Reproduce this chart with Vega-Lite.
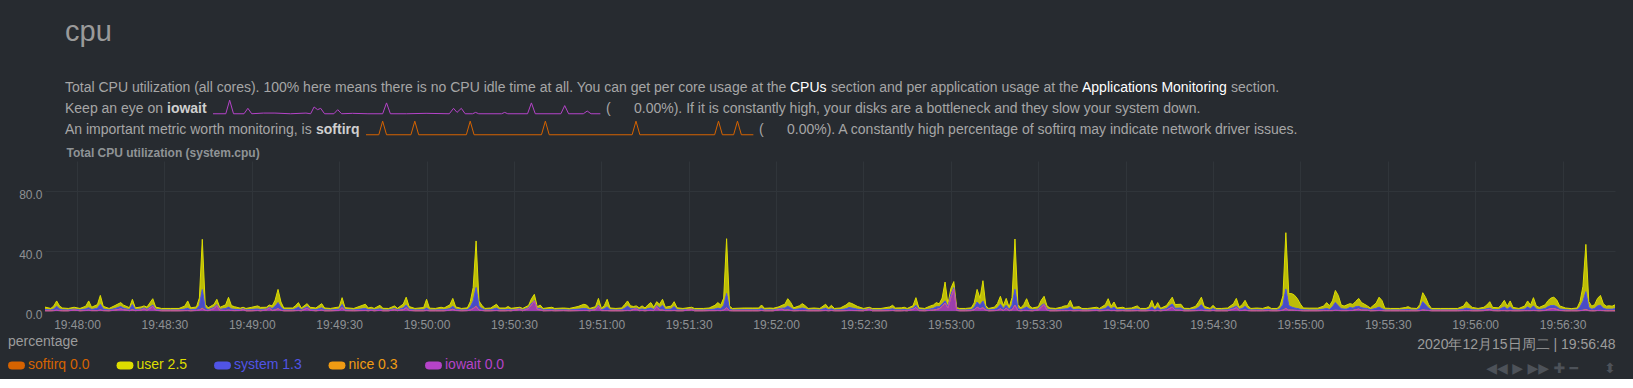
{
"$schema":"https://vega.github.io/schema/vega-lite/v6.json",
"background":"#272b30",
"padding":{"left":8,"top":17.5,"right":4,"bottom":2},
"title":{"text":"cpu","anchor":"start","frame":"group","dx":20,"fontSize":29,"font":"Liberation Sans","fontWeight":"normal","color":"#9a9a9a","offset":8.5,"baseline":"alphabetic"},
"config":{"view":{"stroke":null},"font":"Liberation Sans","text":{"font":"Liberation Sans","fontSize":14,"color":"#a6a6a6","align":"left","baseline":"middle"}},
"spacing":6.5,
"vconcat":[
{"vconcat":[
 {"hconcat":[
  {"width":744.5,"height":19,"data":{"values":[{"text":"Total CPU utilization (all cores). 100% here means there is no CPU idle time at all. You can get per core usage at the"}]},"mark":{"type":"text","dx":20},"encoding":{"text":{"field":"text"},"x":{"datum":0,"scale":{"domain":[0,1]},"axis":null},"y":{"datum":0.5,"scale":{"domain":[0,1]},"axis":null}}},
  {"width":40.4,"height":19,"data":{"values":[{"text":"CPUs"}]},"mark":{"type":"text","color":"#ffffff"},"encoding":{"text":{"field":"text"},"x":{"datum":0,"scale":{"domain":[0,1]},"axis":null},"y":{"datum":0.5,"scale":{"domain":[0,1]},"axis":null}}},
  {"width":251,"height":19,"data":{"values":[{"text":"section and per application usage at the"}]},"mark":{"type":"text"},"encoding":{"text":{"field":"text"},"x":{"datum":0,"scale":{"domain":[0,1]},"axis":null},"y":{"datum":0.5,"scale":{"domain":[0,1]},"axis":null}}},
  {"width":148.6,"height":19,"data":{"values":[{"text":"Applications Monitoring"}]},"mark":{"type":"text","color":"#ffffff"},"encoding":{"text":{"field":"text"},"x":{"datum":0,"scale":{"domain":[0,1]},"axis":null},"y":{"datum":0.5,"scale":{"domain":[0,1]},"axis":null}}},
  {"width":60,"height":19,"data":{"values":[{"text":"section."}]},"mark":{"type":"text"},"encoding":{"text":{"field":"text"},"x":{"datum":0,"scale":{"domain":[0,1]},"axis":null},"y":{"datum":0.5,"scale":{"domain":[0,1]},"axis":null}}}
 ],"spacing":0},
 {"hconcat":[
  {"width":122,"height":19,"data":{"values":[{"text":"Keep an eye on"}]},"mark":{"type":"text","dx":20},"encoding":{"text":{"field":"text"},"x":{"datum":0,"scale":{"domain":[0,1]},"axis":null},"y":{"datum":0.5,"scale":{"domain":[0,1]},"axis":null}}},
  {"width":43.6,"height":19,"data":{"values":[{"text":"iowait"}]},"mark":{"type":"text","fontWeight":"bold","color":"#cfcfcf"},"encoding":{"text":{"field":"text"},"x":{"datum":0,"scale":{"domain":[0,1]},"axis":null},"y":{"datum":0.5,"scale":{"domain":[0,1]},"axis":null}}},
  {"width":392.6,"height":19,"data":{"values":[{"k":0,"v":0},{"k":3.3,"v":0},{"k":4.3,"v":10},{"k":5.3,"v":0},{"k":8,"v":0},{"k":9,"v":4},{"k":10,"v":0},{"k":13,"v":0.5},{"k":16,"v":0.5},{"k":20,"v":0},{"k":24,"v":0.5},{"k":25.2,"v":0},{"k":26.1,"v":5},{"k":27,"v":3},{"k":27.8,"v":4},{"k":28.8,"v":0},{"k":31.2,"v":0},{"k":32.2,"v":3},{"k":33.2,"v":0},{"k":36,"v":0.3},{"k":40,"v":0},{"k":43.8,"v":0},{"k":44.8,"v":8},{"k":45.8,"v":0},{"k":50,"v":0},{"k":55,"v":0.3},{"k":61,"v":0},{"k":62.1,"v":4},{"k":63,"v":1},{"k":64.1,"v":4},{"k":65.1,"v":0},{"k":67,"v":0},{"k":67.8,"v":1},{"k":68.6,"v":0},{"k":74.5,"v":0},{"k":75.3,"v":1},{"k":76.1,"v":0},{"k":81.2,"v":0},{"k":82.2,"v":8},{"k":83.2,"v":0},{"k":89.8,"v":0},{"k":90.8,"v":6},{"k":91.8,"v":0},{"k":95.6,"v":0},{"k":96.6,"v":2},{"k":97.6,"v":0},{"k":100,"v":0}]},"mark":{"type":"line","color":"#b543c9","strokeWidth":1},"encoding":{"x":{"field":"k","type":"quantitative","scale":{"domain":[0,101.35]},"axis":null},"y":{"field":"v","type":"quantitative","scale":{"domain":[-3.5,10.5]},"axis":null}}},
  {"width":1000,"height":19,"data":{"values":[{"text":"(\u00a0\u00a0\u00a0\u00a0\u00a0\u00a00.00%). If it is constantly high, your disks are a bottleneck and they slow your system down."}]},"mark":{"type":"text"},"encoding":{"text":{"field":"text"},"x":{"datum":0,"scale":{"domain":[0,1]},"axis":null},"y":{"datum":0.5,"scale":{"domain":[0,1]},"axis":null}}}
 ],"spacing":0},
 {"hconcat":[
  {"width":270.5,"height":19,"data":{"values":[{"text":"An important metric worth monitoring, is"}]},"mark":{"type":"text","dx":20},"encoding":{"text":{"field":"text"},"x":{"datum":0,"scale":{"domain":[0,1]},"axis":null},"y":{"datum":0.5,"scale":{"domain":[0,1]},"axis":null}}},
  {"width":47.5,"height":19,"data":{"values":[{"text":"softirq"}]},"mark":{"type":"text","fontWeight":"bold","color":"#cfcfcf"},"encoding":{"text":{"field":"text"},"x":{"datum":0,"scale":{"domain":[0,1]},"axis":null},"y":{"datum":0.5,"scale":{"domain":[0,1]},"axis":null}}},
  {"width":392.6,"height":19,"data":{"values":[{"k":0,"v":0},{"k":3.3,"v":0},{"k":4.3,"v":10},{"k":5.3,"v":0},{"k":11.6,"v":0},{"k":12.6,"v":10},{"k":13.6,"v":0},{"k":25.9,"v":0},{"k":26.9,"v":10},{"k":27.9,"v":0},{"k":45.3,"v":0},{"k":46.3,"v":10},{"k":47.3,"v":0},{"k":68.7,"v":0},{"k":69.7,"v":10},{"k":70.7,"v":0},{"k":90,"v":0},{"k":91,"v":10},{"k":92,"v":0},{"k":94.9,"v":0},{"k":95.9,"v":10},{"k":96.9,"v":0},{"k":100,"v":0}]},"mark":{"type":"line","color":"#d66300","strokeWidth":1},"encoding":{"x":{"field":"k","type":"quantitative","scale":{"domain":[0,101.35]},"axis":null},"y":{"field":"v","type":"quantitative","scale":{"domain":[-3.5,10.5]},"axis":null}}},
  {"width":1000,"height":19,"data":{"values":[{"text":"(\u00a0\u00a0\u00a0\u00a0\u00a0\u00a00.00%). A constantly high percentage of softirq may indicate network driver issues."}]},"mark":{"type":"text"},"encoding":{"text":{"field":"text"},"x":{"datum":0,"scale":{"domain":[0,1]},"axis":null},"y":{"datum":0.5,"scale":{"domain":[0,1]},"axis":null}}}
 ],"spacing":0}
],"spacing":0},
{
"width":1570,"height":150,
"layer":[
{"data":{"values":[
{"time":"19:47:49","user":1.6,"system":0.8,"nice":0.1,"iowait":0.1},
{"time":"19:47:51","user":1.0,"system":0.5,"nice":0.1,"iowait":0.1},
{"time":"19:47:52","user":2.0,"system":1.0,"nice":0.1,"iowait":0.2},
{"time":"19:47:53","user":3.6,"system":2.5,"nice":0.2,"iowait":0.4},
{"time":"19:47:54","user":2.0,"system":1.0,"nice":0.1,"iowait":0.2},
{"time":"19:47:55","user":1.2,"system":0.6,"nice":0.1,"iowait":0.1},
{"time":"19:47:57","user":1.0,"system":0.5,"nice":0.1,"iowait":0.1},
{"time":"19:47:59","user":1.2,"system":0.6,"nice":0.1,"iowait":0.6},
{"time":"19:48:01","user":1.0,"system":0.5,"nice":0.1,"iowait":0.1},
{"time":"19:48:03","user":1.8,"system":1.0,"nice":0.1,"iowait":0.3},
{"time":"19:48:04","user":4.5,"system":1.6,"nice":0.2,"iowait":0.4},
{"time":"19:48:05","user":1.5,"system":0.7,"nice":0.1,"iowait":0.2},
{"time":"19:48:07","user":2.5,"system":1.5,"nice":0.1,"iowait":0.2},
{"time":"19:48:08","user":5.9,"system":3.8,"nice":0.2,"iowait":0.5},
{"time":"19:48:09","user":1.8,"system":1.0,"nice":0.1,"iowait":0.2},
{"time":"19:48:11","user":1.0,"system":0.5,"nice":0.1,"iowait":0.1},
{"time":"19:48:13","user":2.0,"system":1.0,"nice":0.1,"iowait":0.5},
{"time":"19:48:15","user":2.6,"system":1.6,"nice":0.1,"iowait":1.3},
{"time":"19:48:16","user":2.0,"system":1.0,"nice":0.1,"iowait":0.8},
{"time":"19:48:18","user":1.3,"system":0.6,"nice":0.1,"iowait":0.2},
{"time":"19:48:19","user":3.5,"system":3.5,"nice":0.2,"iowait":0.6},
{"time":"19:48:20","user":1.2,"system":0.6,"nice":0.1,"iowait":0.2},
{"time":"19:48:22","user":1.4,"system":0.7,"nice":0.1,"iowait":0.5},
{"time":"19:48:23","user":1.3,"system":0.6,"nice":0.1,"iowait":1.4},
{"time":"19:48:24","user":1.5,"system":0.7,"nice":0.1,"iowait":0.3},
{"time":"19:48:26","user":4.2,"system":0.8,"nice":0.2,"iowait":3.0},
{"time":"19:48:27","user":1.5,"system":0.6,"nice":0.1,"iowait":0.4},
{"time":"19:48:29","user":1.0,"system":0.5,"nice":0.1,"iowait":0.1},
{"time":"19:48:32","user":1.0,"system":0.5,"nice":0.1,"iowait":0.1},
{"time":"19:48:35","user":1.0,"system":0.5,"nice":0.1,"iowait":0.1},
{"time":"19:48:37","user":2.0,"system":1.0,"nice":0.1,"iowait":0.2},
{"time":"19:48:38","user":4.8,"system":1.5,"nice":0.2,"iowait":0.2},
{"time":"19:48:39","user":1.3,"system":0.6,"nice":0.1,"iowait":0.1},
{"time":"19:48:41","user":1.5,"system":0.8,"nice":0.1,"iowait":0.3},
{"time":"19:48:42","user":5.0,"system":3.0,"nice":0.2,"iowait":0.5},
{"time":"19:48:43","user":33.5,"system":12.5,"nice":0.3,"iowait":1.5},
{"time":"19:48:44","user":2.5,"system":1.5,"nice":0.1,"iowait":0.4},
{"time":"19:48:45","user":1.2,"system":0.6,"nice":0.1,"iowait":0.2},
{"time":"19:48:47","user":2.0,"system":0.8,"nice":0.1,"iowait":1.5},
{"time":"19:48:48","user":3.5,"system":0.6,"nice":0.2,"iowait":3.5},
{"time":"19:48:49","user":1.3,"system":0.6,"nice":0.1,"iowait":0.4},
{"time":"19:48:51","user":2.5,"system":1.2,"nice":0.1,"iowait":0.3},
{"time":"19:48:52","user":6.5,"system":2.0,"nice":0.2,"iowait":0.4},
{"time":"19:48:53","user":2.2,"system":1.0,"nice":0.1,"iowait":0.3},
{"time":"19:48:54","user":1.8,"system":0.8,"nice":0.1,"iowait":0.2},
{"time":"19:48:56","user":1.0,"system":0.5,"nice":0.1,"iowait":0.3},
{"time":"19:48:57","user":1.0,"system":0.4,"nice":0.1,"iowait":1.0},
{"time":"19:48:58","user":1.0,"system":0.5,"nice":0.1,"iowait":0.1},
{"time":"19:49:00","user":1.5,"system":0.8,"nice":0.1,"iowait":0.1},
{"time":"19:49:02","user":2.0,"system":1.0,"nice":0.1,"iowait":0.3},
{"time":"19:49:03","user":1.5,"system":0.7,"nice":0.1,"iowait":0.1},
{"time":"19:49:05","user":1.2,"system":0.6,"nice":0.1,"iowait":0.6},
{"time":"19:49:06","user":1.5,"system":0.5,"nice":0.1,"iowait":1.9},
{"time":"19:49:07","user":1.8,"system":1.2,"nice":0.1,"iowait":0.3},
{"time":"19:49:08","user":4.0,"system":2.5,"nice":0.1,"iowait":0.6},
{"time":"19:49:09","user":8.8,"system":4.0,"nice":0.1,"iowait":1.5},
{"time":"19:49:10","user":3.5,"system":2.0,"nice":0.1,"iowait":0.4},
{"time":"19:49:11","user":1.2,"system":0.6,"nice":0.1,"iowait":0.1},
{"time":"19:49:14","user":1.2,"system":0.6,"nice":0.1,"iowait":0.1},
{"time":"19:49:15","user":2.0,"system":1.2,"nice":0.1,"iowait":0.2},
{"time":"19:49:16","user":3.0,"system":2.2,"nice":0.1,"iowait":0.3},
{"time":"19:49:17","user":1.2,"system":0.6,"nice":0.1,"iowait":0.1},
{"time":"19:49:19","user":2.0,"system":1.0,"nice":0.1,"iowait":1.8},
{"time":"19:49:20","user":1.4,"system":0.6,"nice":0.1,"iowait":0.4},
{"time":"19:49:22","user":1.2,"system":0.6,"nice":0.1,"iowait":0.1},
{"time":"19:49:24","user":2.8,"system":1.5,"nice":0.1,"iowait":0.5},
{"time":"19:49:25","user":1.2,"system":0.6,"nice":0.1,"iowait":0.1},
{"time":"19:49:27","user":1.0,"system":0.5,"nice":0.1,"iowait":0.1},
{"time":"19:49:30","user":1.5,"system":0.8,"nice":0.1,"iowait":0.3},
{"time":"19:49:31","user":4.5,"system":2.0,"nice":0.2,"iowait":2.2},
{"time":"19:49:32","user":1.3,"system":0.6,"nice":0.1,"iowait":0.2},
{"time":"19:49:35","user":1.0,"system":0.5,"nice":0.1,"iowait":0.1},
{"time":"19:49:39","user":2.8,"system":1.3,"nice":0.1,"iowait":0.3},
{"time":"19:49:40","user":1.2,"system":0.6,"nice":0.1,"iowait":0.1},
{"time":"19:49:41","user":1.4,"system":0.6,"nice":0.1,"iowait":0.4},
{"time":"19:49:42","user":1.0,"system":0.5,"nice":0.1,"iowait":0.1},
{"time":"19:49:44","user":2.3,"system":1.0,"nice":0.1,"iowait":0.4},
{"time":"19:49:45","user":1.1,"system":0.5,"nice":0.1,"iowait":0.1},
{"time":"19:49:47","user":1.0,"system":0.5,"nice":0.1,"iowait":0.1},
{"time":"19:49:49","user":1.8,"system":0.7,"nice":0.1,"iowait":0.8},
{"time":"19:49:50","user":1.0,"system":0.5,"nice":0.1,"iowait":0.2},
{"time":"19:49:52","user":2.5,"system":1.2,"nice":0.1,"iowait":0.8},
{"time":"19:49:53","user":5.2,"system":1.8,"nice":0.2,"iowait":2.0},
{"time":"19:49:54","user":1.8,"system":0.8,"nice":0.1,"iowait":0.3},
{"time":"19:49:56","user":1.0,"system":0.5,"nice":0.1,"iowait":0.1},
{"time":"19:49:59","user":1.5,"system":0.6,"nice":0.1,"iowait":0.1},
{"time":"19:50:00","user":5.8,"system":1.5,"nice":0.2,"iowait":0.3},
{"time":"19:50:01","user":1.2,"system":0.5,"nice":0.1,"iowait":0.1},
{"time":"19:50:03","user":1.0,"system":0.5,"nice":0.1,"iowait":0.1},
{"time":"19:50:05","user":1.6,"system":0.7,"nice":0.1,"iowait":0.1},
{"time":"19:50:06","user":1.2,"system":0.6,"nice":0.1,"iowait":0.1},
{"time":"19:50:08","user":2.5,"system":1.0,"nice":0.1,"iowait":0.5},
{"time":"19:50:09","user":5.2,"system":2.0,"nice":0.2,"iowait":1.0},
{"time":"19:50:10","user":1.5,"system":0.8,"nice":0.1,"iowait":0.3},
{"time":"19:50:12","user":1.0,"system":0.5,"nice":0.1,"iowait":0.1},
{"time":"19:50:14","user":1.2,"system":0.6,"nice":0.1,"iowait":0.2},
{"time":"19:50:15","user":3.5,"system":2.0,"nice":0.1,"iowait":0.6},
{"time":"19:50:16","user":9.0,"system":5.0,"nice":0.2,"iowait":1.5},
{"time":"19:50:17","user":31.0,"system":12.5,"nice":0.2,"iowait":3.0},
{"time":"19:50:18","user":3.5,"system":2.5,"nice":0.1,"iowait":0.5},
{"time":"19:50:19","user":2.2,"system":1.2,"nice":0.1,"iowait":0.3},
{"time":"19:50:20","user":1.0,"system":0.5,"nice":0.1,"iowait":0.1},
{"time":"19:50:22","user":1.2,"system":0.6,"nice":0.1,"iowait":0.1},
{"time":"19:50:24","user":2.6,"system":1.5,"nice":0.1,"iowait":0.3},
{"time":"19:50:25","user":1.2,"system":0.6,"nice":0.1,"iowait":0.1},
{"time":"19:50:27","user":1.2,"system":0.6,"nice":0.1,"iowait":0.1},
{"time":"19:50:28","user":1.8,"system":0.9,"nice":0.1,"iowait":0.2},
{"time":"19:50:29","user":1.1,"system":0.5,"nice":0.1,"iowait":0.1},
{"time":"19:50:32","user":1.0,"system":0.4,"nice":0.1,"iowait":1.0},
{"time":"19:50:33","user":1.0,"system":0.5,"nice":0.1,"iowait":0.1},
{"time":"19:50:35","user":1.5,"system":0.6,"nice":0.1,"iowait":1.5},
{"time":"19:50:36","user":3.0,"system":1.0,"nice":0.1,"iowait":4.0},
{"time":"19:50:37","user":4.1,"system":0.3,"nice":0.1,"iowait":6.6},
{"time":"19:50:38","user":1.2,"system":0.5,"nice":0.1,"iowait":1.0},
{"time":"19:50:39","user":2.2,"system":1.0,"nice":0.1,"iowait":0.7},
{"time":"19:50:40","user":1.0,"system":0.5,"nice":0.1,"iowait":0.1},
{"time":"19:50:43","user":1.5,"system":0.7,"nice":0.1,"iowait":0.2},
{"time":"19:50:44","user":1.0,"system":0.5,"nice":0.1,"iowait":0.1},
{"time":"19:50:47","user":1.2,"system":0.5,"nice":0.1,"iowait":0.2},
{"time":"19:50:49","user":1.0,"system":0.5,"nice":0.1,"iowait":0.1},
{"time":"19:50:52","user":1.8,"system":0.9,"nice":0.1,"iowait":0.2},
{"time":"19:50:54","user":2.8,"system":1.3,"nice":0.1,"iowait":0.3},
{"time":"19:50:55","user":2.4,"system":1.1,"nice":0.1,"iowait":0.3},
{"time":"19:50:56","user":1.0,"system":0.5,"nice":0.1,"iowait":0.1},
{"time":"19:50:58","user":1.5,"system":0.5,"nice":0.1,"iowait":0.8},
{"time":"19:50:59","user":4.5,"system":0.6,"nice":0.2,"iowait":3.1},
{"time":"19:51:00","user":1.0,"system":0.5,"nice":0.1,"iowait":0.2},
{"time":"19:51:01","user":2.0,"system":1.2,"nice":0.1,"iowait":0.2},
{"time":"19:51:02","user":5.0,"system":2.5,"nice":0.1,"iowait":0.2},
{"time":"19:51:03","user":1.2,"system":0.6,"nice":0.1,"iowait":0.1},
{"time":"19:51:05","user":1.0,"system":0.5,"nice":0.1,"iowait":0.1},
{"time":"19:51:07","user":1.2,"system":0.6,"nice":0.1,"iowait":0.1},
{"time":"19:51:08","user":2.5,"system":1.5,"nice":0.1,"iowait":0.2},
{"time":"19:51:09","user":3.5,"system":2.8,"nice":0.1,"iowait":0.3},
{"time":"19:51:10","user":2.0,"system":1.2,"nice":0.1,"iowait":0.2},
{"time":"19:51:11","user":1.4,"system":0.5,"nice":0.1,"iowait":1.0},
{"time":"19:51:12","user":1.5,"system":0.5,"nice":0.1,"iowait":1.3},
{"time":"19:51:13","user":1.2,"system":0.6,"nice":0.1,"iowait":0.2},
{"time":"19:51:14","user":2.0,"system":1.0,"nice":0.1,"iowait":0.3},
{"time":"19:51:15","user":1.2,"system":0.6,"nice":0.1,"iowait":0.1},
{"time":"19:51:16","user":2.5,"system":1.2,"nice":0.1,"iowait":0.3},
{"time":"19:51:17","user":3.6,"system":1.5,"nice":0.1,"iowait":0.4},
{"time":"19:51:18","user":1.5,"system":0.7,"nice":0.1,"iowait":0.2},
{"time":"19:51:19","user":2.5,"system":0.7,"nice":0.1,"iowait":2.9},
{"time":"19:51:20","user":2.5,"system":1.4,"nice":0.1,"iowait":0.5},
{"time":"19:51:21","user":4.0,"system":3.2,"nice":0.1,"iowait":0.5},
{"time":"19:51:22","user":1.5,"system":0.7,"nice":0.1,"iowait":0.2},
{"time":"19:51:24","user":2.0,"system":1.0,"nice":0.1,"iowait":0.2},
{"time":"19:51:25","user":3.2,"system":2.6,"nice":0.1,"iowait":0.3},
{"time":"19:51:26","user":1.3,"system":0.6,"nice":0.1,"iowait":0.1},
{"time":"19:51:28","user":1.0,"system":0.5,"nice":0.1,"iowait":0.1},
{"time":"19:51:31","user":1.2,"system":0.3,"nice":0.1,"iowait":0.9},
{"time":"19:51:32","user":1.0,"system":0.5,"nice":0.1,"iowait":0.1},
{"time":"19:51:35","user":1.0,"system":0.5,"nice":0.1,"iowait":0.1},
{"time":"19:51:37","user":1.2,"system":0.5,"nice":0.1,"iowait":0.2},
{"time":"19:51:39","user":2.5,"system":1.0,"nice":0.1,"iowait":0.2},
{"time":"19:51:40","user":3.7,"system":1.5,"nice":0.1,"iowait":0.3},
{"time":"19:51:41","user":2.5,"system":1.2,"nice":0.1,"iowait":0.2},
{"time":"19:51:42","user":5.0,"system":3.0,"nice":0.1,"iowait":0.5},
{"time":"19:51:43","user":36.5,"system":9.5,"nice":0.2,"iowait":2.0},
{"time":"19:51:44","user":2.0,"system":1.0,"nice":0.1,"iowait":0.2},
{"time":"19:51:45","user":1.0,"system":0.5,"nice":0.1,"iowait":0.1},
{"time":"19:51:49","user":1.2,"system":0.6,"nice":0.1,"iowait":0.1},
{"time":"19:51:52","user":1.2,"system":0.6,"nice":0.1,"iowait":0.1},
{"time":"19:51:54","user":1.2,"system":0.6,"nice":0.1,"iowait":0.1},
{"time":"19:51:55","user":2.4,"system":1.2,"nice":0.1,"iowait":0.3},
{"time":"19:51:56","user":1.1,"system":0.5,"nice":0.1,"iowait":0.1},
{"time":"19:51:58","user":1.2,"system":0.6,"nice":0.1,"iowait":0.1},
{"time":"19:51:59","user":1.1,"system":0.5,"nice":0.1,"iowait":0.1},
{"time":"19:52:01","user":1.3,"system":0.6,"nice":0.1,"iowait":0.8},
{"time":"19:52:02","user":1.9,"system":0.6,"nice":0.1,"iowait":1.2},
{"time":"19:52:03","user":2.5,"system":1.5,"nice":0.1,"iowait":0.4},
{"time":"19:52:04","user":5.0,"system":2.5,"nice":0.2,"iowait":0.5},
{"time":"19:52:05","user":3.5,"system":1.8,"nice":0.1,"iowait":0.3},
{"time":"19:52:06","user":1.3,"system":0.6,"nice":0.1,"iowait":0.1},
{"time":"19:52:08","user":2.0,"system":1.2,"nice":0.1,"iowait":0.2},
{"time":"19:52:09","user":2.9,"system":1.7,"nice":0.1,"iowait":0.2},
{"time":"19:52:10","user":2.0,"system":1.2,"nice":0.1,"iowait":0.2},
{"time":"19:52:11","user":1.0,"system":0.5,"nice":0.1,"iowait":0.1},
{"time":"19:52:13","user":1.2,"system":0.6,"nice":0.1,"iowait":0.1},
{"time":"19:52:15","user":1.0,"system":0.5,"nice":0.1,"iowait":0.1},
{"time":"19:52:17","user":2.6,"system":1.5,"nice":0.1,"iowait":0.3},
{"time":"19:52:18","user":1.2,"system":0.6,"nice":0.1,"iowait":0.1},
{"time":"19:52:19","user":2.3,"system":1.1,"nice":0.1,"iowait":0.3},
{"time":"19:52:20","user":1.0,"system":0.5,"nice":0.1,"iowait":0.1},
{"time":"19:52:22","user":1.2,"system":0.6,"nice":0.1,"iowait":0.1},
{"time":"19:52:24","user":2.5,"system":1.2,"nice":0.1,"iowait":0.2},
{"time":"19:52:25","user":3.3,"system":1.8,"nice":0.2,"iowait":0.3},
{"time":"19:52:26","user":3.0,"system":1.6,"nice":0.1,"iowait":0.3},
{"time":"19:52:28","user":1.8,"system":0.9,"nice":0.1,"iowait":0.2},
{"time":"19:52:30","user":1.0,"system":0.5,"nice":0.1,"iowait":0.1},
{"time":"19:52:32","user":1.0,"system":0.3,"nice":0.1,"iowait":1.1},
{"time":"19:52:33","user":1.0,"system":0.5,"nice":0.1,"iowait":0.1},
{"time":"19:52:36","user":1.0,"system":0.5,"nice":0.1,"iowait":0.1},
{"time":"19:52:39","user":1.6,"system":0.8,"nice":0.1,"iowait":0.2},
{"time":"19:52:40","user":2.3,"system":1.1,"nice":0.1,"iowait":0.3},
{"time":"19:52:41","user":1.2,"system":0.6,"nice":0.1,"iowait":0.1},
{"time":"19:52:43","user":1.3,"system":0.6,"nice":0.1,"iowait":0.1},
{"time":"19:52:44","user":1.5,"system":0.7,"nice":0.1,"iowait":0.2},
{"time":"19:52:45","user":1.0,"system":0.5,"nice":0.1,"iowait":0.1},
{"time":"19:52:47","user":1.6,"system":0.8,"nice":0.1,"iowait":1.0},
{"time":"19:52:48","user":5.0,"system":1.5,"nice":0.1,"iowait":2.3},
{"time":"19:52:49","user":1.2,"system":0.6,"nice":0.1,"iowait":0.2},
{"time":"19:52:51","user":1.0,"system":0.5,"nice":0.1,"iowait":0.1},
{"time":"19:52:53","user":2.0,"system":0.9,"nice":0.1,"iowait":0.4},
{"time":"19:52:54","user":2.2,"system":1.2,"nice":0.1,"iowait":0.5},
{"time":"19:52:55","user":2.8,"system":1.8,"nice":0.1,"iowait":0.9},
{"time":"19:52:56","user":2.0,"system":1.2,"nice":0.1,"iowait":1.5},
{"time":"19:52:57","user":4.0,"system":1.5,"nice":0.1,"iowait":3.0},
{"time":"19:52:58","user":12.5,"system":1.5,"nice":0.1,"iowait":5.2},
{"time":"19:52:59","user":1.5,"system":1.0,"nice":0.1,"iowait":1.9},
{"time":"19:53:00","user":4.0,"system":2.0,"nice":0.1,"iowait":9.0},
{"time":"19:53:01","user":4.0,"system":1.0,"nice":0.1,"iowait":14.5},
{"time":"19:53:02","user":1.2,"system":0.6,"nice":0.1,"iowait":0.3},
{"time":"19:53:03","user":1.0,"system":0.5,"nice":0.1,"iowait":0.1},
{"time":"19:53:05","user":1.0,"system":0.5,"nice":0.1,"iowait":0.1},
{"time":"19:53:07","user":1.2,"system":0.6,"nice":0.1,"iowait":0.2},
{"time":"19:53:08","user":3.0,"system":1.5,"nice":0.1,"iowait":0.8},
{"time":"19:53:09","user":8.4,"system":3.4,"nice":0.1,"iowait":2.5},
{"time":"19:53:10","user":4.5,"system":2.5,"nice":0.1,"iowait":1.4},
{"time":"19:53:11","user":13.5,"system":4.5,"nice":0.1,"iowait":2.1},
{"time":"19:53:12","user":1.8,"system":1.0,"nice":0.1,"iowait":0.5},
{"time":"19:53:13","user":1.0,"system":0.5,"nice":0.1,"iowait":0.1},
{"time":"19:53:15","user":1.5,"system":0.8,"nice":0.1,"iowait":0.2},
{"time":"19:53:16","user":3.0,"system":1.5,"nice":0.1,"iowait":0.4},
{"time":"19:53:17","user":5.3,"system":3.0,"nice":0.1,"iowait":1.4},
{"time":"19:53:18","user":2.0,"system":1.2,"nice":0.1,"iowait":0.3},
{"time":"19:53:19","user":4.5,"system":2.0,"nice":0.1,"iowait":1.8},
{"time":"19:53:20","user":1.5,"system":0.7,"nice":0.1,"iowait":0.2},
{"time":"19:53:21","user":5.0,"system":3.0,"nice":0.1,"iowait":0.8},
{"time":"19:53:22","user":33.5,"system":10.5,"nice":0.2,"iowait":3.8},
{"time":"19:53:23","user":2.5,"system":1.5,"nice":0.1,"iowait":0.3},
{"time":"19:53:24","user":1.2,"system":0.6,"nice":0.1,"iowait":0.1},
{"time":"19:53:25","user":2.5,"system":1.3,"nice":0.1,"iowait":0.3},
{"time":"19:53:26","user":5.5,"system":2.3,"nice":0.1,"iowait":0.3},
{"time":"19:53:27","user":2.0,"system":1.0,"nice":0.1,"iowait":0.2},
{"time":"19:53:28","user":1.2,"system":0.6,"nice":0.1,"iowait":0.1},
{"time":"19:53:30","user":1.5,"system":0.6,"nice":0.1,"iowait":0.6},
{"time":"19:53:31","user":3.5,"system":1.0,"nice":0.1,"iowait":2.5},
{"time":"19:53:32","user":5.0,"system":0.5,"nice":0.1,"iowait":4.2},
{"time":"19:53:33","user":2.0,"system":0.8,"nice":0.1,"iowait":0.5},
{"time":"19:53:34","user":1.2,"system":0.6,"nice":0.1,"iowait":0.1},
{"time":"19:53:36","user":1.0,"system":0.5,"nice":0.1,"iowait":0.1},
{"time":"19:53:38","user":1.5,"system":0.8,"nice":0.1,"iowait":0.2},
{"time":"19:53:39","user":2.0,"system":1.1,"nice":0.1,"iowait":0.2},
{"time":"19:53:40","user":2.0,"system":1.2,"nice":0.1,"iowait":0.2},
{"time":"19:53:41","user":4.4,"system":2.3,"nice":0.1,"iowait":0.3},
{"time":"19:53:42","user":1.5,"system":0.7,"nice":0.1,"iowait":0.1},
{"time":"19:53:44","user":1.7,"system":0.9,"nice":0.1,"iowait":0.2},
{"time":"19:53:45","user":1.0,"system":0.5,"nice":0.1,"iowait":0.1},
{"time":"19:53:47","user":1.0,"system":0.5,"nice":0.1,"iowait":0.1},
{"time":"19:53:50","user":1.5,"system":0.6,"nice":0.1,"iowait":0.3},
{"time":"19:53:51","user":1.0,"system":0.5,"nice":0.1,"iowait":0.1},
{"time":"19:53:53","user":2.5,"system":1.3,"nice":0.1,"iowait":0.3},
{"time":"19:53:54","user":4.8,"system":2.8,"nice":0.1,"iowait":0.5},
{"time":"19:53:55","user":1.8,"system":1.0,"nice":0.1,"iowait":0.2},
{"time":"19:53:56","user":3.4,"system":2.2,"nice":0.1,"iowait":0.3},
{"time":"19:53:57","user":1.2,"system":0.6,"nice":0.1,"iowait":0.1},
{"time":"19:53:59","user":1.5,"system":0.7,"nice":0.1,"iowait":0.2},
{"time":"19:54:00","user":1.0,"system":0.5,"nice":0.1,"iowait":0.1},
{"time":"19:54:02","user":1.2,"system":0.6,"nice":0.1,"iowait":0.1},
{"time":"19:54:04","user":2.0,"system":1.1,"nice":0.1,"iowait":0.2},
{"time":"19:54:05","user":1.0,"system":0.5,"nice":0.1,"iowait":0.1},
{"time":"19:54:07","user":1.0,"system":0.5,"nice":0.1,"iowait":0.1},
{"time":"19:54:08","user":1.5,"system":0.8,"nice":0.1,"iowait":0.2},
{"time":"19:54:09","user":4.5,"system":2.2,"nice":0.1,"iowait":0.3},
{"time":"19:54:10","user":1.2,"system":0.6,"nice":0.1,"iowait":0.1},
{"time":"19:54:11","user":3.2,"system":2.0,"nice":0.1,"iowait":0.3},
{"time":"19:54:12","user":1.1,"system":0.5,"nice":0.1,"iowait":0.1},
{"time":"19:54:14","user":2.0,"system":1.0,"nice":0.1,"iowait":0.5},
{"time":"19:54:15","user":3.0,"system":1.8,"nice":0.1,"iowait":1.5},
{"time":"19:54:16","user":4.5,"system":2.0,"nice":0.1,"iowait":2.6},
{"time":"19:54:17","user":2.5,"system":1.2,"nice":0.1,"iowait":0.5},
{"time":"19:54:19","user":2.5,"system":1.5,"nice":0.1,"iowait":0.4},
{"time":"19:54:20","user":1.1,"system":0.5,"nice":0.1,"iowait":0.1},
{"time":"19:54:22","user":1.0,"system":0.5,"nice":0.1,"iowait":0.1},
{"time":"19:54:24","user":1.8,"system":1.0,"nice":0.1,"iowait":0.2},
{"time":"19:54:25","user":3.5,"system":2.0,"nice":0.1,"iowait":0.3},
{"time":"19:54:26","user":5.0,"system":3.7,"nice":0.1,"iowait":0.4},
{"time":"19:54:27","user":1.8,"system":1.0,"nice":0.1,"iowait":0.2},
{"time":"19:54:29","user":1.0,"system":0.5,"nice":0.1,"iowait":0.1},
{"time":"19:54:30","user":2.2,"system":1.2,"nice":0.1,"iowait":0.3},
{"time":"19:54:31","user":1.0,"system":0.5,"nice":0.1,"iowait":0.1},
{"time":"19:54:33","user":1.0,"system":0.5,"nice":0.1,"iowait":0.1},
{"time":"19:54:35","user":1.2,"system":0.6,"nice":0.1,"iowait":0.1},
{"time":"19:54:37","user":2.5,"system":1.0,"nice":0.1,"iowait":1.2},
{"time":"19:54:38","user":5.0,"system":1.2,"nice":0.1,"iowait":2.1},
{"time":"19:54:39","user":1.5,"system":0.7,"nice":0.1,"iowait":0.3},
{"time":"19:54:40","user":2.5,"system":1.3,"nice":0.1,"iowait":0.3},
{"time":"19:54:41","user":4.0,"system":2.5,"nice":0.1,"iowait":0.5},
{"time":"19:54:42","user":2.0,"system":1.0,"nice":0.1,"iowait":0.2},
{"time":"19:54:43","user":1.0,"system":0.5,"nice":0.1,"iowait":0.1},
{"time":"19:54:45","user":1.2,"system":0.6,"nice":0.1,"iowait":0.1},
{"time":"19:54:47","user":1.0,"system":0.5,"nice":0.1,"iowait":0.1},
{"time":"19:54:49","user":1.8,"system":0.8,"nice":0.1,"iowait":0.2},
{"time":"19:54:50","user":1.0,"system":0.5,"nice":0.1,"iowait":0.1},
{"time":"19:54:52","user":1.0,"system":0.5,"nice":0.1,"iowait":0.1},
{"time":"19:54:53","user":2.0,"system":1.2,"nice":0.1,"iowait":0.2},
{"time":"19:54:54","user":6.0,"system":3.5,"nice":0.1,"iowait":0.5},
{"time":"19:54:55","user":37.5,"system":13.0,"nice":0.2,"iowait":1.5},
{"time":"19:54:56","user":8.0,"system":3.0,"nice":0.1,"iowait":0.5},
{"time":"19:54:57","user":9.0,"system":2.0,"nice":0.1,"iowait":0.5},
{"time":"19:54:58","user":8.5,"system":1.5,"nice":0.1,"iowait":0.4},
{"time":"19:54:59","user":6.5,"system":1.2,"nice":0.1,"iowait":0.3},
{"time":"19:55:00","user":3.5,"system":0.8,"nice":0.1,"iowait":0.2},
{"time":"19:55:01","user":1.2,"system":0.6,"nice":0.1,"iowait":0.1},
{"time":"19:55:03","user":1.2,"system":0.5,"nice":0.1,"iowait":0.1},
{"time":"19:55:06","user":1.2,"system":0.5,"nice":0.1,"iowait":0.1},
{"time":"19:55:08","user":2.0,"system":1.0,"nice":0.1,"iowait":0.2},
{"time":"19:55:09","user":4.0,"system":1.3,"nice":0.1,"iowait":0.2},
{"time":"19:55:10","user":2.5,"system":0.8,"nice":0.1,"iowait":0.2},
{"time":"19:55:11","user":4.0,"system":2.5,"nice":0.1,"iowait":0.2},
{"time":"19:55:12","user":8.0,"system":5.2,"nice":0.1,"iowait":0.4},
{"time":"19:55:13","user":7.0,"system":3.0,"nice":0.1,"iowait":0.3},
{"time":"19:55:14","user":2.5,"system":1.2,"nice":0.1,"iowait":0.2},
{"time":"19:55:15","user":2.0,"system":1.0,"nice":0.1,"iowait":0.2},
{"time":"19:55:16","user":2.8,"system":1.0,"nice":0.1,"iowait":0.2},
{"time":"19:55:17","user":2.5,"system":2.0,"nice":0.1,"iowait":0.3},
{"time":"19:55:18","user":2.5,"system":1.5,"nice":0.1,"iowait":0.3},
{"time":"19:55:19","user":3.5,"system":2.0,"nice":0.1,"iowait":0.8},
{"time":"19:55:20","user":5.3,"system":1.8,"nice":0.1,"iowait":1.2},
{"time":"19:55:21","user":3.5,"system":1.5,"nice":0.1,"iowait":0.5},
{"time":"19:55:23","user":1.8,"system":1.0,"nice":0.1,"iowait":0.5},
{"time":"19:55:24","user":1.2,"system":0.6,"nice":0.1,"iowait":0.1},
{"time":"19:55:26","user":3.5,"system":1.5,"nice":0.1,"iowait":0.2},
{"time":"19:55:27","user":6.6,"system":2.2,"nice":0.1,"iowait":0.3},
{"time":"19:55:28","user":5.5,"system":1.2,"nice":0.1,"iowait":0.2},
{"time":"19:55:29","user":1.2,"system":0.5,"nice":0.1,"iowait":0.1},
{"time":"19:55:31","user":1.0,"system":0.5,"nice":0.1,"iowait":0.1},
{"time":"19:55:34","user":1.0,"system":0.5,"nice":0.1,"iowait":0.1},
{"time":"19:55:36","user":1.4,"system":0.7,"nice":0.1,"iowait":0.1},
{"time":"19:55:37","user":1.8,"system":0.9,"nice":0.1,"iowait":0.1},
{"time":"19:55:38","user":1.2,"system":0.5,"nice":0.1,"iowait":0.1},
{"time":"19:55:40","user":1.0,"system":0.5,"nice":0.1,"iowait":0.1},
{"time":"19:55:41","user":2.5,"system":1.5,"nice":0.1,"iowait":0.2},
{"time":"19:55:42","user":6.0,"system":5.5,"nice":0.1,"iowait":0.6},
{"time":"19:55:43","user":5.0,"system":3.5,"nice":0.1,"iowait":0.4},
{"time":"19:55:44","user":2.5,"system":1.5,"nice":0.1,"iowait":0.3},
{"time":"19:55:45","user":1.0,"system":0.5,"nice":0.1,"iowait":0.1},
{"time":"19:55:48","user":1.0,"system":0.5,"nice":0.1,"iowait":0.1},
{"time":"19:55:51","user":1.0,"system":0.5,"nice":0.1,"iowait":0.1},
{"time":"19:55:54","user":1.0,"system":0.5,"nice":0.1,"iowait":0.1},
{"time":"19:55:56","user":2.0,"system":1.0,"nice":0.1,"iowait":0.2},
{"time":"19:55:57","user":4.3,"system":1.6,"nice":0.1,"iowait":0.2},
{"time":"19:55:58","user":2.5,"system":1.2,"nice":0.1,"iowait":0.2},
{"time":"19:55:59","user":1.5,"system":0.7,"nice":0.1,"iowait":0.1},
{"time":"19:56:01","user":1.0,"system":0.5,"nice":0.1,"iowait":0.1},
{"time":"19:56:03","user":1.5,"system":0.7,"nice":0.1,"iowait":0.2},
{"time":"19:56:04","user":2.5,"system":0.8,"nice":0.1,"iowait":0.6},
{"time":"19:56:05","user":4.3,"system":0.8,"nice":0.1,"iowait":1.0},
{"time":"19:56:06","user":1.5,"system":0.6,"nice":0.1,"iowait":0.2},
{"time":"19:56:08","user":1.3,"system":0.6,"nice":0.1,"iowait":0.1},
{"time":"19:56:09","user":2.5,"system":1.5,"nice":0.1,"iowait":0.2},
{"time":"19:56:10","user":4.4,"system":2.4,"nice":0.1,"iowait":0.2},
{"time":"19:56:11","user":2.0,"system":1.0,"nice":0.1,"iowait":0.1},
{"time":"19:56:12","user":4.0,"system":2.4,"nice":0.1,"iowait":0.2},
{"time":"19:56:13","user":1.5,"system":0.7,"nice":0.1,"iowait":0.1},
{"time":"19:56:15","user":1.0,"system":0.5,"nice":0.1,"iowait":0.1},
{"time":"19:56:17","user":2.0,"system":1.0,"nice":0.1,"iowait":0.2},
{"time":"19:56:18","user":4.0,"system":2.4,"nice":0.1,"iowait":0.2},
{"time":"19:56:19","user":2.5,"system":1.2,"nice":0.1,"iowait":0.2},
{"time":"19:56:20","user":5.5,"system":3.0,"nice":0.1,"iowait":0.3},
{"time":"19:56:21","user":2.0,"system":1.0,"nice":0.1,"iowait":0.2},
{"time":"19:56:22","user":1.5,"system":0.7,"nice":0.1,"iowait":0.1},
{"time":"19:56:24","user":2.5,"system":1.2,"nice":0.1,"iowait":0.3},
{"time":"19:56:25","user":4.0,"system":1.8,"nice":0.1,"iowait":1.0},
{"time":"19:56:26","user":5.0,"system":2.0,"nice":0.1,"iowait":1.5},
{"time":"19:56:27","user":5.5,"system":2.0,"nice":0.1,"iowait":1.6},
{"time":"19:56:28","user":4.5,"system":1.8,"nice":0.1,"iowait":1.0},
{"time":"19:56:29","user":2.0,"system":1.0,"nice":0.1,"iowait":0.3},
{"time":"19:56:31","user":1.2,"system":0.6,"nice":0.1,"iowait":0.1},
{"time":"19:56:33","user":1.0,"system":0.4,"nice":0.1,"iowait":0.1},
{"time":"19:56:35","user":1.2,"system":0.6,"nice":0.1,"iowait":0.1},
{"time":"19:56:36","user":3.5,"system":2.5,"nice":0.1,"iowait":0.2},
{"time":"19:56:37","user":10.0,"system":6.0,"nice":0.1,"iowait":0.4},
{"time":"19:56:38","user":31.5,"system":11.9,"nice":0.2,"iowait":0.8},
{"time":"19:56:39","user":4.0,"system":2.0,"nice":0.1,"iowait":0.2},
{"time":"19:56:40","user":2.0,"system":1.0,"nice":0.1,"iowait":0.1},
{"time":"19:56:41","user":2.5,"system":1.5,"nice":0.1,"iowait":0.1},
{"time":"19:56:42","user":5.0,"system":3.0,"nice":0.1,"iowait":0.3},
{"time":"19:56:43","user":6.5,"system":3.5,"nice":0.1,"iowait":0.3},
{"time":"19:56:44","user":3.0,"system":1.5,"nice":0.1,"iowait":0.2},
{"time":"19:56:45","user":2.0,"system":1.0,"nice":0.1,"iowait":0.1},
{"time":"19:56:46","user":2.3,"system":1.0,"nice":0.1,"iowait":0.1},
{"time":"19:56:47","user":2.0,"system":1.0,"nice":0.1,"iowait":0.1},
{"time":"19:56:48","user":2.5,"system":1.3,"nice":0.3,"iowait":0.0}
],"format":{"parse":{"time":"date:'%H:%M:%S'"}}},
"transform":[{"fold":["user","system","nice","iowait"],"as":["series","value"]}],
"mark":{"type":"area","fillOpacity":0.82,"line":{"strokeWidth":1},"interpolate":"linear"},
"encoding":{
"x":{"field":"time","type":"temporal","scale":{"domain":[{"year":1900,"month":1,"date":1,"hours":19,"minutes":47,"seconds":49},{"year":1900,"month":1,"date":1,"hours":19,"minutes":56,"seconds":48}]},
 "axis":{"title":"2020年12月15日周二 | 19:56:48","format":"%H:%M:%S",
 "values":[{"year":1900,"month":1,"date":1,"hours":19,"minutes":48,"seconds":0},{"year":1900,"month":1,"date":1,"hours":19,"minutes":48,"seconds":30},{"year":1900,"month":1,"date":1,"hours":19,"minutes":49,"seconds":0},{"year":1900,"month":1,"date":1,"hours":19,"minutes":49,"seconds":30},{"year":1900,"month":1,"date":1,"hours":19,"minutes":50,"seconds":0},{"year":1900,"month":1,"date":1,"hours":19,"minutes":50,"seconds":30},{"year":1900,"month":1,"date":1,"hours":19,"minutes":51,"seconds":0},{"year":1900,"month":1,"date":1,"hours":19,"minutes":51,"seconds":30},{"year":1900,"month":1,"date":1,"hours":19,"minutes":52,"seconds":0},{"year":1900,"month":1,"date":1,"hours":19,"minutes":52,"seconds":30},{"year":1900,"month":1,"date":1,"hours":19,"minutes":53,"seconds":0},{"year":1900,"month":1,"date":1,"hours":19,"minutes":53,"seconds":30},{"year":1900,"month":1,"date":1,"hours":19,"minutes":54,"seconds":0},{"year":1900,"month":1,"date":1,"hours":19,"minutes":54,"seconds":30},{"year":1900,"month":1,"date":1,"hours":19,"minutes":55,"seconds":0},{"year":1900,"month":1,"date":1,"hours":19,"minutes":55,"seconds":30},{"year":1900,"month":1,"date":1,"hours":19,"minutes":56,"seconds":0},{"year":1900,"month":1,"date":1,"hours":19,"minutes":56,"seconds":30}],
 "grid":true,"gridColor":"#30353a","domain":false,"ticks":false,"tickSize":0,"labelFontSize":12,"labelColor":"#8e9194","labelPadding":8,"labelFlush":false,"labelOverlap":false,"titleFontSize":14,"titleFontWeight":"normal","titleColor":"#9c9c9c","titleAnchor":"end","titlePadding":7,"titleFont":"Liberation Sans"}},
"y":{"field":"value","type":"quantitative","stack":"zero","scale":{"domain":[0,100]},
 "axis":{"title":"Total CPU utilization (system.cpu)","titleAngle":0,"titleAlign":"left","titleBaseline":"alphabetic","titleX":21,"titleY":-5,"titleFontSize":12,"titleFontWeight":"bold","titleColor":"#8f9396","titleFont":"Liberation Sans","values":[0,20,40,60,80,100],"format":".1f","grid":true,"gridColor":"#30353a","domain":false,"ticks":false,"tickSize":0,"labelFontSize":12,"labelColor":"#8e9194","labelPadding":3,"labelOffset":3,"labelFlush":false,"labelOverlap":false}},
"color":{"field":"series","type":"nominal","scale":{"domain":["softirq","user","system","nice","iowait"],"range":["#d66300","#dddd00","#5054e6","#ef9b13","#b543c9"]},
 "legend":{"title":"percentage","orient":"none","legendX":-37,"legendY":256.2,"direction":"horizontal","columns":5,"columnPadding":26.5,"padding":0,"symbolType":"M-0.55,-0.47 L0.55,-0.47 L0.8,-0.42 L0.94,-0.28 L1,0 L0.94,0.28 L0.8,0.42 L0.55,0.47 L-0.55,0.47 L-0.8,0.42 L-0.94,0.28 L-1,0 L-0.94,-0.28 L-0.8,-0.42 Z","symbolSize":289,"symbolStrokeWidth":0,"symbolOpacity":1,"labelFontSize":14,"labelOffset":3,"labelColor":{"expr":"scale('color', datum.value)"},"labelFont":"Liberation Sans","titleFont":"Liberation Sans","titleFontSize":14,"titleFontWeight":"normal","titleColor":"#9c9c9c","titlePadding":8,
 "labelExpr":"datum.label == 'softirq' ? 'softirq 0.0' : datum.label == 'user' ? 'user 2.5' : datum.label == 'system' ? 'system 1.3' : datum.label == 'nice' ? 'nice 0.3' : 'iowait 0.0'"}},
"order":{"field":"series","type":"nominal","sort":"ascending"}
}},
{"data":{"values":[{"icons":"◀◀ ▶ ▶▶ ✚ ━"}]},
 "mark":{"type":"text","align":"right","baseline":"middle","dx":-37,"dy":58,"fontSize":14,"color":"#4d5259","font":"DejaVu Sans"},
 "encoding":{"text":{"field":"icons"},"x":{"datum":{"year":1900,"month":1,"date":1,"hours":19,"minutes":56,"seconds":48},"type":"temporal"},"y":{"datum":0}}},
{"data":{"values":[{"icons":"⬍"}]},
 "mark":{"type":"text","align":"center","baseline":"middle","dx":-5,"dy":58,"fontSize":14,"color":"#4d5259","font":"DejaVu Sans"},
 "encoding":{"text":{"field":"icons"},"x":{"datum":{"year":1900,"month":1,"date":1,"hours":19,"minutes":56,"seconds":48},"type":"temporal"},"y":{"datum":0}}}
]
}
]
}
